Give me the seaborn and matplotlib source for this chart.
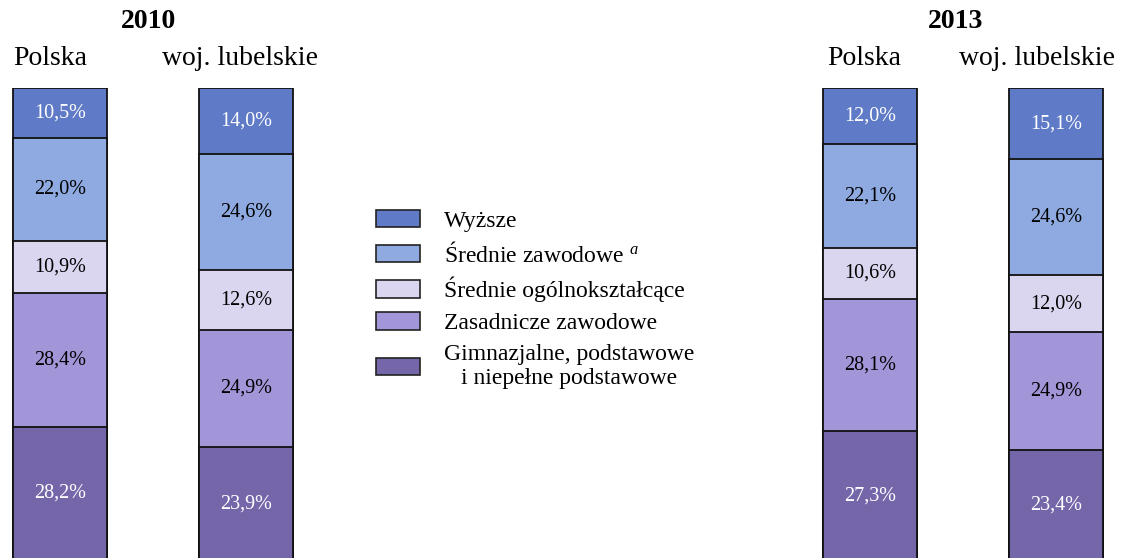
import numpy as np
import pandas as pd
import matplotlib
matplotlib.use("Agg")
import matplotlib.pyplot as plt
from matplotlib.patches import Patch
import seaborn as sns

# dane: udział wykształcenia (%) - od góry słupka do dołu
categories = ["Wyższe", "Średnie zawodowe", "Średnie ogólnokształcące",
              "Zasadnicze zawodowe", "Gimnazjalne, podstawowe i niepełne podstawowe"]
legend_labels = ["Wyższe", "Średnie zawodowe $^{a}$", "Średnie ogólnokształcące",
                 "Zasadnicze zawodowe", "Gimnazjalne, podstawowe\ni niepełne podstawowe"]
regions = ["Polska", "woj. lubelskie"]
years = ["2010", "2013"]
polska_2010 = [10.5, 22.0, 10.9, 28.4, 28.2]
lubelskie_2010 = [14.0, 24.6, 12.6, 24.9, 23.9]
polska_2013 = [12.0, 22.1, 10.6, 28.1, 27.3]
lubelskie_2013 = [15.1, 24.6, 12.0, 24.9, 23.4]
colors = ["#5f7ac6", "#8eaae0", "#dad6f0", "#a396d8", "#7565a9"]
text_colors = ["white", "black", "black", "black", "white"]

sns.set_style("white")
plt.rcParams["font.family"] = ["Liberation Serif", "DejaVu Serif"]
plt.rcParams["text.color"] = "black"
plt.rcParams["mathtext.fontset"] = "custom"
plt.rcParams["mathtext.it"] = "Liberation Serif:italic"
plt.rcParams["mathtext.rm"] = "Liberation Serif"

W, H = 1126, 558
fig = plt.figure(figsize=(W / 100, H / 100), dpi=100)


def draw_year(ax, vals_pl, vals_lub):
    vals = np.array([vals_pl, vals_lub])  # 2 x 5
    # kumulacja od dołu (ostatnia kategoria na dole)
    cum_from_bottom = np.cumsum(vals[:, ::-1], axis=1)[:, ::-1]
    for i, cat in enumerate(categories):
        df = pd.DataFrame({"region": regions, "value": cum_from_bottom[:, i]})
        sns.barplot(data=df, x="region", y="value", order=regions, color=colors[i],
                    saturation=1, width=0.505, edgecolor="#111111", linewidth=1.3,
                    ax=ax, errorbar=None)
    for j in range(len(regions)):
        for i in range(len(categories)):
            center = cum_from_bottom[j, i] - vals[j, i] / 2
            ax.text(j, center, f"{vals[j, i]:.1f}%".replace(".", ","),
                    ha="center", va="center", fontsize=14.5, color=text_colors[i])
    ax.set_xlim(-0.3, 1.3)
    ax.set_ylim(0, 100)
    ax.axis("off")


ax1 = fig.add_axes([4.2 / W, -2 / H, 297.6 / W, 472 / H])
draw_year(ax1, polska_2010, lubelskie_2010)
ax2 = fig.add_axes([814.2 / W, -2 / H, 297.6 / W, 472 / H])
draw_year(ax2, polska_2013, lubelskie_2013)

# nagłówki
for yr, xc, xp, xl in [(years[0], 148, 50, 240), (years[1], 956, 864, 1037)]:
    fig.text(xc / W, 1 - 22 / H, yr, ha="center", va="center",
             fontsize=20, fontweight="bold")
    fig.text(xp / W, 1 - 65 / H, regions[0], ha="center", va="baseline", fontsize=20)
    fig.text(xl / W, 1 - 65 / H, regions[1], ha="center", va="baseline", fontsize=20)

# legenda
handles = [Patch(facecolor=c, edgecolor="#222222", linewidth=1.2) for c in colors]
leg = fig.legend(handles, legend_labels, loc="upper left",
                 bbox_to_anchor=(376 / W, 1 - 210 / H), frameon=False,
                 fontsize=17, handlelength=1.86, handleheight=0.76,
                 handletextpad=1.0, labelspacing=0.42, borderpad=0, borderaxespad=0)
for t in leg.get_texts():
    t.set_multialignment("center")

fig.savefig("out.png", dpi=100)
